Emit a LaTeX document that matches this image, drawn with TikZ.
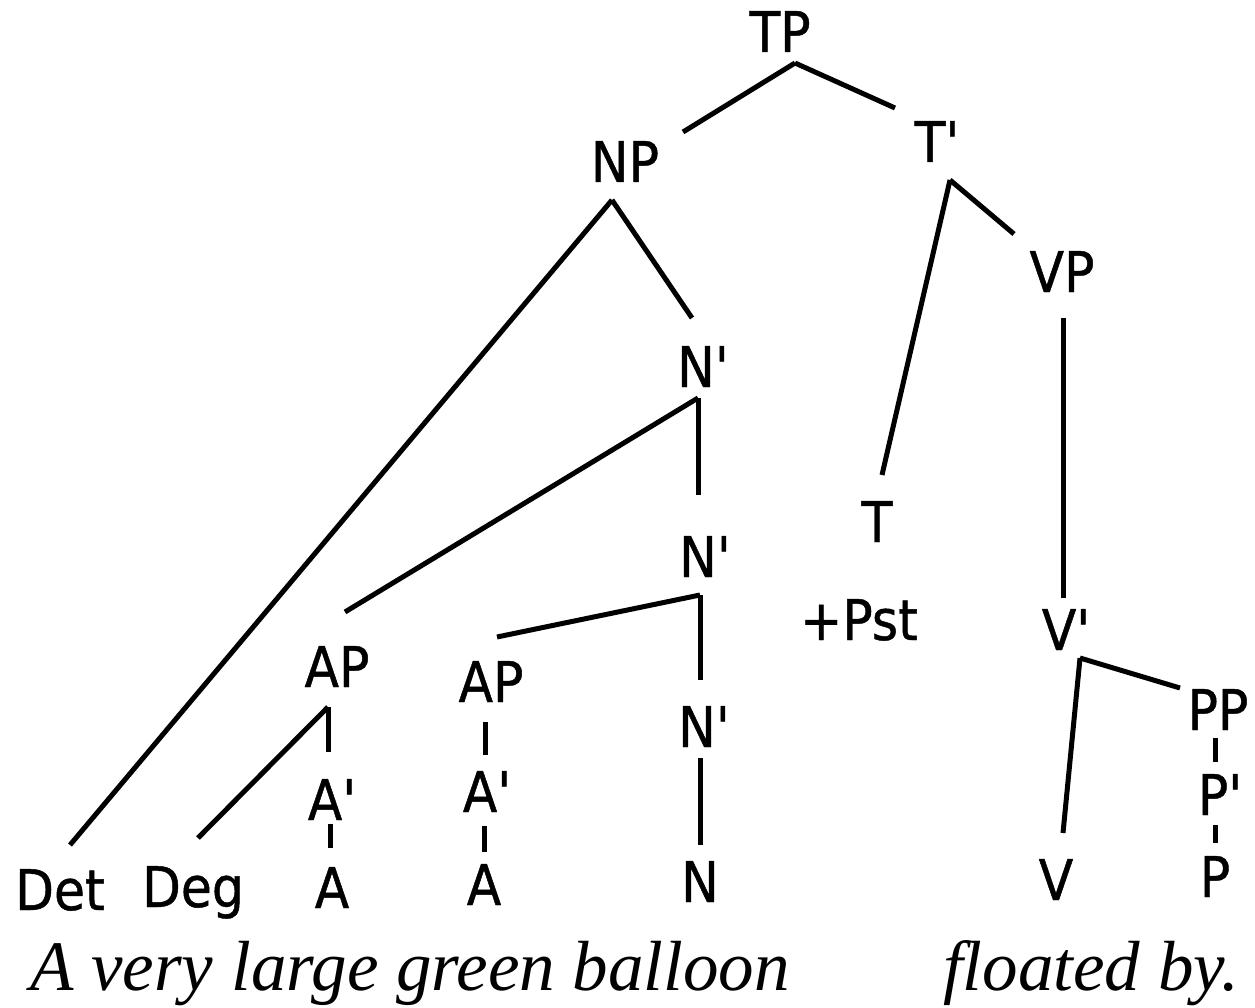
\documentclass[tikz,border=0pt]{standalone}
\usepackage{fontspec}
\setmainfont{DejaVu Sans}[FakeStretch=0.9,FakeBold=0.8,Ligatures=TeXOff]
\newfontfamily\sentfont{Liberation Serif}
\begin{document}
\begin{tikzpicture}[x=1pt,y=-1pt,
  lab/.style={anchor=base,inner sep=0pt,outer sep=0pt,font=\fontsize{56}{60}\selectfont},
  sent/.style={anchor=base west,inner sep=0pt,font=\sentfont\itshape\fontsize{71}{80}\selectfont},
  edge/.style={line width=5pt}]
\useasboundingbox (0,0) rectangle (1255,1008);
% nodes (x, baseline)
\node[lab] (TP)  at (780,52)  {TP};
\node[lab] (NP)  at (625,182) {NP};
\node[lab] (Tb)  at (937,162) {T'};
\node[lab] (VP)  at (1062,292) {VP};
\node[lab] (Nb1) at (703,387) {N'};
\node[lab] (T)   at (877,542) {T};
\node[lab] (Pst) at (859,640) {+Pst};
\node[lab] (Nb2) at (705,577) {N'};
\node[lab] (Vb)  at (1066,650) {V'};
\node[lab] (AP1) at (337,687) {AP};
\node[lab] (AP2) at (491,702) {AP};
\node[lab] (Nb3) at (704,747) {N'};
\node[lab] (PP)  at (1218,730) {PP};
\node[lab] (Ab1) at (332,820) {A'};
\node[lab] (Ab2) at (487,812) {A'};
\node[lab] (Pb)  at (1220,815) {P'};
\node[lab] (Det) at (60,910)  {Det};
\node[lab] (Deg) at (193,907) {Deg};
\node[lab] (A1)  at (332,908) {A};
\node[lab] (A2)  at (484,905) {A};
\node[lab] (N)   at (700,902) {N};
\node[lab] (V)   at (1056,900) {V};
\node[lab] (P)   at (1215,897) {P};
\node[sent] (s1) at (30,990) {A very large green balloon};
\node[sent] (s2) at (943,990) {floated by.};
% connectors
\draw[edge] ([shift={(15,11)}]TP.base) -- ([shift={(58,-50)}]NP.base);
\draw[edge] ([shift={(15,11)}]TP.base) -- ([shift={(-42,-54)}]Tb.base);
\draw[edge] ([shift={(-13,18)}]NP.base) -- ([shift={(10,-65)}]Det.base);
\draw[edge] ([shift={(-13,18)}]NP.base) -- ([shift={(-11,-69)}]Nb1.base);
\draw[edge] ([shift={(13,18)}]Tb.base) -- ([shift={(5,-67)}]T.base);
\draw[edge] ([shift={(13,18)}]Tb.base) -- ([shift={(-48,-58)}]VP.base);
\draw[edge] ([shift={(1,26)}]VP.base) -- ([shift={(-3,-52)}]Vb.base);
\draw[edge] ([shift={(-5,11)}]Nb1.base) -- ([shift={(8,-75)}]AP1.base);
\draw[edge] ([shift={(-5,11)}]Nb1.base) -- ([shift={(-7,-82)}]Nb2.base);
\draw[edge] ([shift={(-5,18)}]Nb2.base) -- ([shift={(6,-65)}]AP2.base);
\draw[edge] ([shift={(-5,18)}]Nb2.base) -- ([shift={(-4,-67)}]Nb3.base);
\draw[edge] ([shift={(-4,11)}]Nb3.base) -- ([shift={(0,-57)}]N.base);
\draw[edge] ([shift={(-9,20)}]AP1.base) -- ([shift={(5,-69)}]Deg.base);
\draw[edge] ([shift={(-9,20)}]AP1.base) -- ([shift={(-4,-68)}]Ab1.base);
\draw[edge] ([shift={(-2,4)}]Ab1.base) -- ([shift={(-2,-60)}]A1.base);
\draw[edge] ([shift={(-6,20)}]AP2.base) -- ([shift={(-2,-57)}]Ab2.base);
\draw[edge] ([shift={(-3,14)}]Ab2.base) -- ([shift={(0,-53)}]A2.base);
\draw[edge] ([shift={(14,8)}]Vb.base) -- ([shift={(7,-67)}]V.base);
\draw[edge] ([shift={(14,8)}]Vb.base) -- ([shift={(-38,-42)}]PP.base);
\draw[edge] ([shift={(-3,8)}]PP.base) -- ([shift={(-5,-53)}]Pb.base);
\draw[edge] ([shift={(-5,10)}]Pb.base) -- ([shift={(0,-54)}]P.base);
\end{tikzpicture}
\end{document}
